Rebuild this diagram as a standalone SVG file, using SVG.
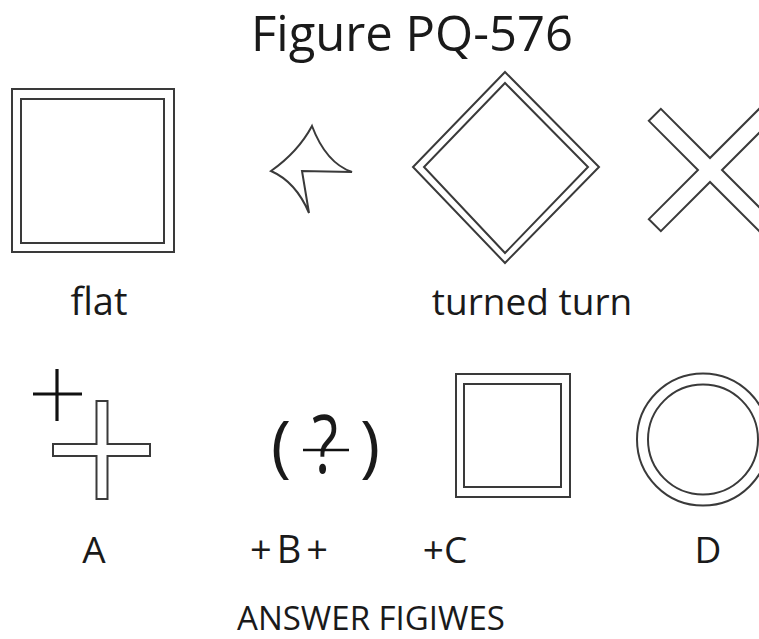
<svg xmlns="http://www.w3.org/2000/svg" width="759" height="639" viewBox="0 0 759 639">
<style>
.ln{fill:none;stroke:#3a3a3a;stroke-width:2}
.t{font-family:"Open Sans","Noto Sans",sans-serif;fill:#1a1a1a;text-anchor:middle}
</style>
<rect width="759" height="639" fill="#ffffff"/>
<text id="title" class="t" x="412" y="51" font-size="49">Figure PQ-576</text>
<g id="flat-square">
<rect class="ln" x="12" y="89" width="162" height="163"/>
<rect class="ln" x="21" y="99" width="143" height="144"/>
</g>
<g id="star">
<path class="ln" d="M312,126 Q326,163 352,172 L302,171 L309,213 Q296,182 271,171 Q298,152 312,126 Z"/>
</g>
<g id="diamond">
<polygon class="ln" points="505,72 599,167 505,263 413,167"/>
<polygon class="ln" points="505,83 588,167 505,253 424,167"/>
</g>
<g id="cross-x" transform="translate(710,170) rotate(45)">
<polygon class="ln" points="78,8.5 8.5,8.5 8.5,78 -8.5,78 -8.5,8.5 -78,8.5 -78,-8.5 -8.5,-8.5 -8.5,-78 8.5,-78 8.5,-8.5 78,-8.5"/>
</g>
<text id="label-flat" class="t" x="99" y="315" font-size="38">flat</text>
<text id="label-turned" class="t" x="532" y="315" font-size="37">turned turn</text>
<g id="answer-a">
<line x1="57" y1="369" x2="57" y2="421" stroke="#111" stroke-width="3.2"/>
<line x1="33" y1="394" x2="82" y2="394" stroke="#111" stroke-width="3.2"/>
<polygon class="ln" points="96.5,401 107.5,401 107.5,444 150,444 150,456 107.5,456 107.5,499 96.5,499 96.5,456 53,456 53,444 96.5,444"/>
</g>
<g id="answer-b">
<text class="t" x="281" y="469" font-size="68">(</text>
<text class="t" x="370" y="469" font-size="68">)</text>
<text class="t" transform="translate(325,473) scale(0.75,1)" x="0" y="0" font-size="80">?</text>
<line x1="303" y1="450" x2="349" y2="450" stroke="#111" stroke-width="2.5"/>
</g>
<g id="answer-c">
<rect class="ln" x="456" y="374" width="114" height="123"/>
<rect class="ln" x="464" y="384" width="97" height="103"/>
</g>
<g id="answer-d">
<circle class="ln" cx="703" cy="439.5" r="66"/>
<circle class="ln" cx="703" cy="439.5" r="55"/>
</g>
<text id="label-a" class="t" x="94" y="563" font-size="37">A</text>
<text id="label-b" class="t" x="289" y="563" font-size="38" textLength="78" lengthAdjust="spacing">+B+</text>
<text id="label-c" class="t" x="445" y="563" font-size="37">+C</text>
<text id="label-d" class="t" x="708" y="563" font-size="37">D</text>
<text id="label-answer" class="t" x="371" y="630" font-size="33">ANSWER FIGIWES</text>
<g id="connectors"></g>
</svg>
